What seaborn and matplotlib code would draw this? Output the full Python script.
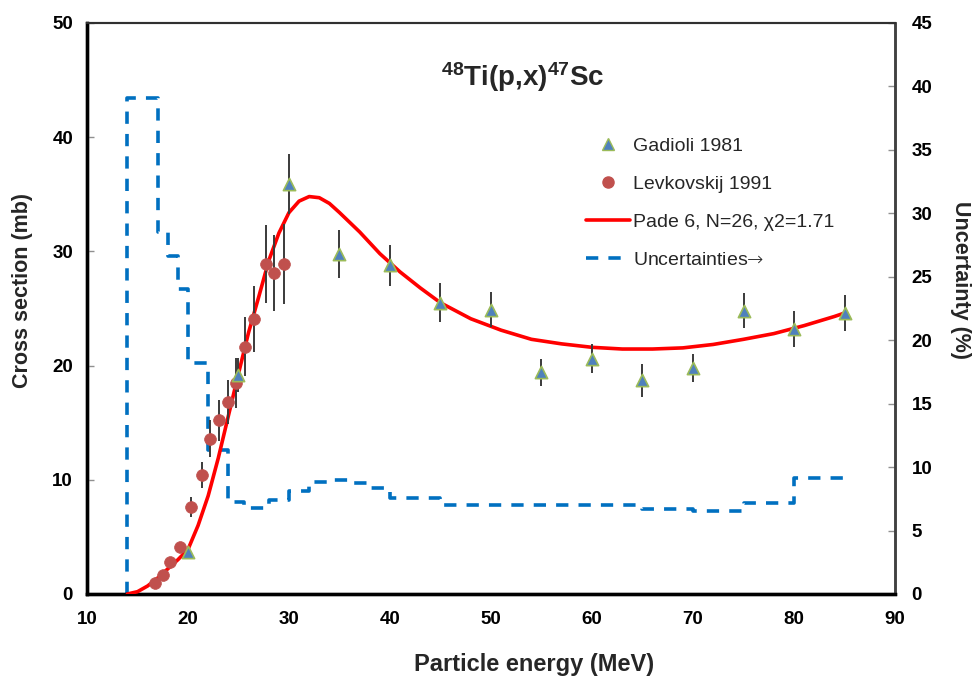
import matplotlib
matplotlib.use('Agg')
import matplotlib.pyplot as plt
import seaborn as sns
import pandas as pd
from matplotlib.lines import Line2D

# ---------------- data ----------------
gad_e = [20, 25, 30, 35, 40, 45, 50, 55, 60, 65, 70, 75, 80, 85]
gad_xs = [3.7, 19.2, 35.9, 29.8, 28.8, 25.5, 24.9, 19.4, 20.6, 18.7, 19.8, 24.8, 23.2, 24.6]
gad_err = [0.3, 1.5, 2.6, 2.1, 1.8, 1.7, 1.5, 1.2, 1.25, 1.45, 1.2, 1.55, 1.55, 1.55]

lev_e = [16.7, 17.5, 18.2, 19.2, 20.3, 21.4, 22.2, 23.1, 24.0, 24.8, 25.6, 26.5, 27.7, 28.5, 29.5]
lev_xs = [1.0, 1.7, 2.8, 4.1, 7.6, 10.4, 13.6, 15.2, 16.8, 18.45, 21.65, 24.05, 28.9, 28.1, 28.9]
lev_err = [0.1, 0.15, 0.25, 0.35, 0.85, 1.15, 1.6, 1.8, 1.9, 2.2, 2.6, 2.9, 3.45, 3.35, 3.5]

fit_e = [14.0, 15, 16, 17, 18, 19, 20, 21, 22, 23, 24, 25, 26, 27, 28, 29, 30, 31, 32,
         33, 34, 35, 37, 39, 41, 43, 45, 48, 51, 54, 57, 60, 63, 66, 69, 72, 75, 78, 81, 84, 85]
fit_xs = [0, 0.2, 0.7, 1.4, 2.2, 3.0, 3.9, 6.0, 8.6, 11.9, 15.6, 19.3, 22.9, 26.0, 29.2, 31.6,
          33.4, 34.4, 34.8, 34.7, 34.2, 33.4, 31.7, 29.8, 28.2, 26.8, 25.5, 24.1, 23.1, 22.3,
          21.9, 21.6, 21.45, 21.45, 21.55, 21.85, 22.3, 22.8, 23.5, 24.3, 24.6]

unc_e = [14, 14, 17, 18, 19, 20, 22, 24, 25.5, 28, 30, 32, 34, 36, 38, 40, 45, 65, 70, 75, 80, 85]
unc_pct = [0, 39.1, 28.5, 26.6, 24.0, 18.2, 11.35, 7.27, 6.75, 7.4, 8.1, 8.8, 8.98, 8.77,
           8.35, 7.54, 6.98, 6.67, 6.54, 7.2, 9.14, 9.14]

x_ticks = [10, 20, 30, 40, 50, 60, 70, 80, 90]
y_ticks = [0, 10, 20, 30, 40, 50]
y2_ticks = [0, 5, 10, 15, 20, 25, 30, 35, 40, 45]

title = r'$\mathbf{^{48}Ti(p{,}x)^{47}Sc}$'
labels = ['Gadioli 1981', 'Levkovskij 1991', 'Pade 6, N=26, \u03c72=1.71',
          'Uncertainties$\\mathsf{\u2192}$']

# ---------------- style ----------------
sns.set_style('white')
plt.rcParams['font.family'] = ['Liberation Sans', 'DejaVu Sans']
plt.rcParams['mathtext.fontset'] = 'custom'
plt.rcParams['mathtext.bf'] = 'Liberation Sans:bold'
plt.rcParams['mathtext.rm'] = 'Liberation Sans'
plt.rcParams['mathtext.sf'] = 'DejaVu Sans:light'

C_TRI = '#4F81BD'
C_TRI_EDGE = '#9BBB59'
C_CIRC = '#C0504D'
C_FIT = '#FF0000'
C_UNC = '#0070C0'

fig = plt.figure(figsize=(9.74, 6.8), dpi=100)
ax = fig.add_axes([0.0893, 0.1265, 0.8296, 0.8397])
ax2 = ax.twinx()
ax.set_zorder(ax2.get_zorder() + 1)
ax.patch.set_visible(False)

# uncertainty step line on the right axis
sns.lineplot(x=unc_e, y=unc_pct, ax=ax2, sort=False, estimator=None,
             drawstyle='steps-post', color=C_UNC, linewidth=2.6,
             linestyle=(0, (3.4, 2.8)))

# fit curve
sns.lineplot(x=fit_e, y=fit_xs, ax=ax, sort=False, estimator=None,
             color=C_FIT, linewidth=2.6, zorder=3)

# error bars
ax.errorbar(gad_e, gad_xs, yerr=gad_err, fmt='none', ecolor='#3a3a3a',
            elinewidth=1.4, capsize=0, zorder=4)
ax.errorbar(lev_e, lev_xs, yerr=lev_err, fmt='none', ecolor='#3a3a3a',
            elinewidth=1.4, capsize=0, zorder=4)

# markers
sns.scatterplot(x=gad_e, y=gad_xs, ax=ax, marker='^', s=78, color=C_TRI,
                edgecolor=C_TRI_EDGE, linewidth=1.2, zorder=6)
sns.scatterplot(x=lev_e, y=lev_xs, ax=ax, marker='o', s=72, color=C_CIRC,
                edgecolor=C_CIRC, linewidth=0.5, zorder=5)

# axes limits / ticks
ax.set_xlim(10, 90)
ax.set_ylim(0, 50)
ax2.set_ylim(0, 45)
ax.set_xticks(x_ticks)
ax.set_yticks(y_ticks)
ax2.set_yticks(y2_ticks)

tick_kw = dict(direction='in', length=5, width=1, color='#909090',
               labelsize=13.5, labelcolor='black')
ax.tick_params(axis='x', pad=12, **tick_kw)
ax.tick_params(axis='y', pad=10, **tick_kw)
ax2.tick_params(axis='y', pad=12, **tick_kw)
for lab in ax.get_xticklabels() + ax.get_yticklabels() + ax2.get_yticklabels():
    lab.set_fontweight('bold')

for a in (ax, ax2):
    a.spines['left'].set_color('black')
    a.spines['left'].set_linewidth(2.4)
    a.spines['bottom'].set_color('black')
    a.spines['bottom'].set_linewidth(2.4)
    a.spines['top'].set_color('#303030')
    a.spines['top'].set_linewidth(1.5)
    a.spines['right'].set_color('#404040')
    a.spines['right'].set_linewidth(1.8)
    a.grid(False)

# axis titles
fig.text(534 / 974, 1 - 665 / 680, 'Particle energy (MeV)', ha='center', va='center',
         fontsize=17, fontweight='bold')
fig.text(23 / 974, 1 - 290 / 680, 'Cross section (mb)', ha='center', va='center',
         rotation=90, fontsize=15.5, fontweight='bold')
fig.text(960 / 974, 1 - 280 / 680, 'Uncertainty (%)', ha='center', va='center',
         rotation=270, fontsize=15.5, fontweight='bold')

ax.text(0.54, 0.905, title, transform=ax.transAxes, ha='center', va='center',
        fontsize=20)

handles = [
    Line2D([], [], marker='^', linestyle='none', markersize=8, markerfacecolor=C_TRI,
           markeredgecolor=C_TRI_EDGE, markeredgewidth=1.0),
    Line2D([], [], marker='o', linestyle='none', markersize=8, markerfacecolor=C_CIRC,
           markeredgecolor=C_CIRC),
    Line2D([], [], color=C_FIT, linewidth=2.6),
    Line2D([], [], color=C_UNC, linewidth=2.6, linestyle=(0, (3.4, 2.8))),
]
leg = ax.legend(handles, labels, loc='upper left', bbox_to_anchor=(0.618, 0.80),
                frameon=False, fontsize=14, handlelength=2.27, handletextpad=0.15,
                labelspacing=1.05, borderpad=0, borderaxespad=0)

fig.savefig('out.png', dpi=100)
